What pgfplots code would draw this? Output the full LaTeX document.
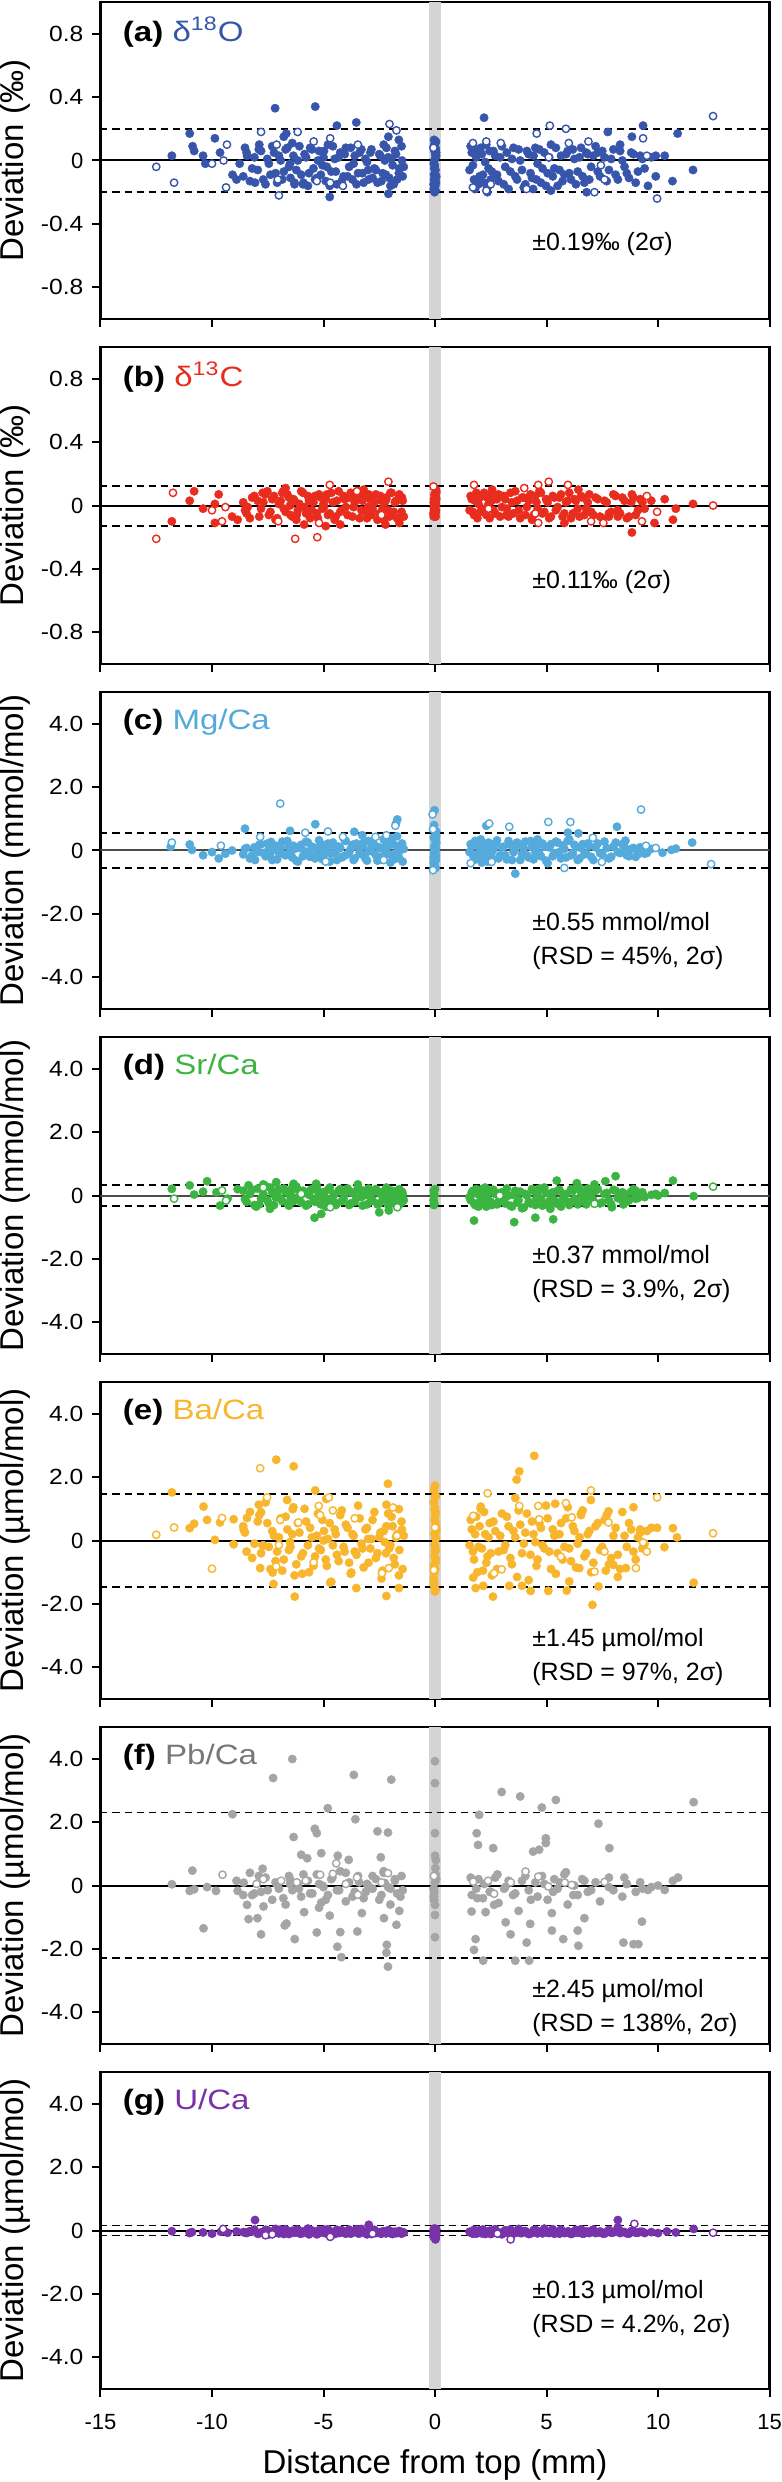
\documentclass[border=0pt]{standalone}
\usepackage{pgfplots}
\pgfplotsset{compat=1.18}
\usepackage{pgfplotstable}
\usepackage{fontspec}
\setmainfont{Liberation Sans}
\definecolor{ca}{RGB}{55,85,170}
\definecolor{cb}{RGB}{232,45,30}
\definecolor{cc}{RGB}{85,170,220}
\definecolor{cd}{RGB}{60,180,65}
\definecolor{ce}{RGB}{247,182,45}
\definecolor{cf}{RGB}{165,165,165}
\definecolor{cfl}{RGB}{120,120,120}
\definecolor{cg}{RGB}{120,50,170}
\definecolor{band}{RGB}{212,212,212}

\pgfplotstableread{
x a b c d e f g
-8.6 -0.10 0.02 -0.12 0.15 0.45 -0.30 -0.05
-8.45 0.05 -0.05 0.08 -0.20 -0.35 nan -0.08
-8.3 -0.13 -0.08 -0.25 0.05 0.90 0.40 -0.02
-8.1 0.02 0.06 0.10 -0.30 -0.10 -0.25 0.03
-7.95 -0.06 0.03 -0.05 0.22 0.60 nan -0.10
-7.8 0.06 -0.02 0.20 -0.10 -0.40 -0.20 -0.06
-7.6 -0.15 0.07 -0.18 0.30 1.20 0.25 0.02
-7.45 -0.02 -0.06 0.05 -0.25 -0.20 nan -0.12
-7.3 0.09 0.04 -0.30 0.10 0.30 -0.45 -0.04
-7.15 -0.08 -0.09 0.15 -0.05 -0.65 0.10 0.05
-7.0 0.03 0.01 -0.08 0.20 0.10 -0.10 -0.09
-6.85 -0.12 0.08 0.28 -0.18 -0.95 nan -0.03
-6.7 0.07 -0.04 -0.15 0.12 0.75 -0.60 0.04
-6.55 -0.04 0.05 0.12 -0.32 -0.30 0.30 -0.11
-6.4 0.11 -0.07 -0.22 0.25 0.20 -0.15 -0.01
-6.3 -0.14 0.03 0.05 -0.08 -1.10 nan -0.07
-6.15 0.00 -0.03 -0.35 0.18 0.55 0.05 0.03
-6.0 -0.09 0.09 0.18 -0.22 -0.50 -0.35 -0.10
-5.85 0.04 -0.01 -0.02 0.08 1.00 nan -0.04
-5.7 -0.16 0.06 0.25 -0.28 -0.15 0.15 0.06
-5.6 0.08 -0.08 -0.20 0.15 0.40 -0.25 -0.08
-5.45 -0.05 0.02 0.09 -0.12 -0.80 nan -0.02
-5.3 -0.11 -0.05 -0.12 0.28 0.15 0.35 -0.12
-5.2 0.06 0.07 0.32 -0.02 -0.25 -0.70 0.01
-5.05 -0.03 -0.02 -0.28 0.10 0.65 0.00 -0.06
-4.9 -0.13 0.04 0.02 -0.35 -0.60 nan -0.09
-4.8 0.10 -0.06 0.22 0.18 0.05 -0.30 0.04
-4.65 -0.07 0.08 -0.10 -0.15 -1.30 0.20 -0.05
-4.5 0.01 -0.09 0.15 0.05 0.35 nan -0.11
-4.4 -0.15 0.03 -0.30 -0.25 -0.45 -0.15 0.02
-4.25 0.05 -0.04 0.08 0.20 0.80 0.45 -0.07
-4.1 -0.10 0.06 -0.18 -0.10 -0.20 nan -0.03
-4.0 0.08 -0.01 0.30 0.12 0.50 -0.50 -0.10
-3.85 -0.04 0.05 -0.05 -0.30 -0.70 0.10 0.03
-3.7 -0.12 -0.07 0.18 0.08 0.20 nan -0.06
-3.6 0.03 0.02 -0.25 -0.20 -0.35 -0.20 -0.01
-3.45 -0.08 0.09 0.12 0.25 1.10 0.30 -0.09
-3.3 0.07 -0.03 -0.12 -0.05 -0.10 nan 0.05
-3.2 -0.14 0.06 0.25 0.15 -0.85 -0.40 -0.04
-3.05 -0.01 -0.08 -0.32 -0.28 0.40 0.05 -0.12
-2.9 0.05 0.04 0.05 0.05 -0.25 nan -0.02
-2.8 -0.11 -0.02 0.20 -0.15 0.65 -0.10 0.02
-2.65 -0.06 0.07 -0.15 0.20 -0.55 0.20 -0.08
-2.5 0.04 -0.05 0.10 -0.25 0.10 nan -0.05
-2.4 -0.13 0.03 -0.28 0.10 -1.20 -0.30 -0.10
-2.3 0.10 -0.09 0.35 -0.12 0.30 0.40 -0.03
-2.2 -0.09 0.05 -0.05 0.18 -0.40 nan -0.09
-2.1 0.02 -0.03 0.15 -0.30 0.85 -0.05 0.01
-2.0 -0.16 0.08 -0.38 0.08 -0.15 -0.60 -0.06
-1.9 -0.03 -0.06 0.22 -0.20 0.45 nan -0.11
-1.8 0.06 0.02 -0.10 0.12 -0.75 0.15 -0.04
-1.7 -0.12 -0.08 0.45 -0.05 0.20 -0.25 -0.08
-1.6 -0.05 0.06 -0.25 0.20 -0.30 nan -0.02
-1.5 0.09 -0.04 0.10 -0.22 0.60 0.30 -0.10
-1.45 -0.10 0.03 -0.35 0.05 -0.90 -0.15 -0.05
-1.4 -0.04 -0.07 0.05 -0.15 0.15 nan -0.07
-6.5 -0.02 0.00 -0.08 -0.02 -0.05 0.05 -0.06
-5.0 0.02 0.01 0.02 -0.08 0.00 -0.05 -0.03
-3.0 -0.06 -0.01 -0.03 0.00 0.05 0.00 -0.07
-2.25 0.00 0.02 0.06 -0.05 -0.05 0.08 -0.04
-0.05 -0.18 -0.06 -0.30 0.15 -1.40 -0.35 -0.10
0.04 0.12 0.05 0.25 nan 1.40 0.80 0.05
-0.03 -0.05 -0.02 -0.10 -0.25 -0.50 -0.20 -0.05
0.05 0.05 0.08 0.45 nan 0.30 0.20 -0.15
-0.04 -0.12 -0.04 -0.45 0.05 -1.00 -0.45 0.02
0.02 0.08 0.02 0.10 nan 0.80 0.55 -0.08
-0.06 -0.15 -0.05 -0.20 -0.15 -1.20 -0.10 -0.20
0.03 0.02 0.00 0.35 nan 0.10 0.35 -0.02
0.00 -0.08 0.06 0.00 0.20 -0.20 0.10 0.00
-0.02 0.10 -0.03 -0.05 nan 1.00 nan -0.12
0.05 -0.10 0.04 0.60 nan 0.45 nan 0.03
-0.05 -0.02 -0.07 -0.40 -0.30 -0.80 nan -0.06
0.01 0.04 0.01 0.20 nan 0.60 nan -0.25
0.04 -0.14 0.10 -0.15 nan -0.30 nan 0.04
-0.03 0.00 -0.01 0.05 0.00 0.20 nan -0.04
0.02 -0.06 0.03 -0.25 nan -0.70 nan -0.09
1.55 -0.06 -0.03 -0.05 -0.05 -0.15 nan -0.04
1.65 0.05 0.04 0.12 0.10 0.35 -0.30 -0.08
1.75 -0.12 -0.06 -0.30 -0.25 -0.60 nan 0.02
1.85 0.02 0.08 0.25 0.20 0.75 -0.10 -0.10
1.95 -0.15 0.01 -0.10 -0.35 -0.20 0.20 -0.03
2.05 0.08 -0.04 0.35 0.05 1.00 nan -0.06
2.15 -0.09 0.06 -0.20 -0.15 -0.95 -0.40 0.03
2.25 -0.01 -0.02 0.08 0.25 0.20 nan -0.11
2.35 -0.17 0.05 -0.35 -0.10 -0.50 0.10 -0.05
2.45 0.06 -0.08 0.15 0.15 0.55 -0.20 -0.01
2.55 -0.07 0.03 -0.05 -0.30 -1.10 nan -0.09
2.7 0.03 -0.05 0.22 0.05 0.30 0.25 0.04
2.85 -0.13 0.07 -0.25 -0.20 -0.35 -0.55 -0.07
3.0 0.09 -0.01 0.10 0.10 0.85 nan -0.12
3.15 -0.04 0.04 -0.15 -0.25 -0.15 -0.05 0.01
3.3 -0.18 -0.07 0.30 0.00 0.45 0.15 -0.05
3.45 0.01 0.02 -0.30 -0.35 -0.75 nan -0.10
3.6 -0.10 0.09 0.05 0.15 0.10 -0.25 -0.03
3.75 0.07 -0.03 0.20 -0.15 0.95 -0.80 0.05
3.9 -0.06 0.05 -0.12 -0.40 -0.40 nan -0.08
4.05 -0.15 -0.06 0.28 0.05 0.25 0.30 -0.02
4.2 0.04 0.03 -0.22 -0.20 -1.25 -0.15 -0.11
4.35 -0.11 -0.09 0.10 0.20 0.60 nan -0.06
4.5 0.08 0.06 -0.05 -0.30 -0.05 0.10 0.02
4.6 -0.02 -0.02 0.35 0.10 -0.60 -0.35 -0.09
4.75 -0.14 0.08 -0.18 -0.10 0.40 nan -0.04
4.9 0.05 -0.04 0.12 0.25 -0.25 0.05 0.06
5.05 -0.08 0.02 -0.40 -0.25 0.70 -0.45 -0.07
5.2 0.10 -0.07 0.20 0.05 -0.90 nan -0.01
5.35 -0.05 0.05 -0.08 -0.15 0.15 0.20 -0.10
5.5 -0.16 -0.01 0.25 0.15 -0.40 -0.10 -0.05
5.65 0.03 0.07 -0.25 -0.35 0.55 nan 0.03
5.8 -0.09 -0.05 0.05 0.00 -0.20 0.35 -0.08
5.95 0.06 0.03 0.30 -0.20 1.05 -0.60 -0.03
6.1 -0.12 -0.08 -0.15 0.20 -0.65 nan -0.11
6.25 0.01 0.04 0.18 -0.10 0.30 0.00 -0.02
6.4 -0.07 -0.02 -0.30 -0.28 -0.10 -0.30 -0.07
6.55 0.08 0.06 0.08 0.10 0.80 nan 0.04
6.7 -0.14 -0.06 -0.12 -0.18 -0.50 0.15 -0.09
6.85 0.04 0.02 0.22 0.22 0.20 -0.20 -0.05
7.0 -0.04 -0.04 -0.20 -0.05 -1.00 nan -0.01
7.2 0.09 0.05 0.10 0.15 0.45 0.10 -0.08
7.4 -0.10 -0.07 -0.08 -0.25 -0.30 -0.50 -0.03
7.6 0.02 0.03 0.28 0.05 0.65 nan -0.10
7.8 -0.06 -0.05 -0.25 -0.15 -0.75 0.25 0.02
8.0 0.07 0.07 0.12 0.18 0.15 -0.15 -0.06
8.2 -0.12 -0.03 -0.05 -0.08 -0.45 nan 0.10
8.4 0.00 0.05 0.20 0.10 0.90 -0.35 -0.04
8.6 -0.08 -0.08 -0.15 -0.20 -0.20 0.05 -0.09
8.8 0.05 0.02 0.05 0.12 0.35 nan -0.02
9.0 -0.14 -0.06 -0.20 -0.10 -0.60 -0.20 -0.07
9.2 0.03 0.04 0.10 0.08 0.25 0.10 -0.04
9.4 -0.05 -0.02 -0.10 -0.05 -0.10 nan -0.08
9.7 0.02 0.03 0.05 0.02 0.40 -0.05 -0.05
}\core

\pgfplotstableread{
x a b c d e g
-8.52 0.08 -0.03 0.05 -0.12 0.25 -0.06
-8.2 -0.05 0.05 -0.15 0.18 -0.55 -0.03
-7.88 0.10 -0.07 0.18 -0.28 0.80 -0.09
-7.7 -0.12 0.02 -0.08 0.05 -0.15 -0.05
-7.52 0.01 0.09 0.22 -0.15 0.55 0.01
-7.38 -0.09 -0.04 -0.20 0.25 -0.90 -0.10
-7.22 0.05 0.06 0.02 -0.30 0.15 -0.04
-7.08 -0.14 -0.08 -0.28 0.08 -0.35 -0.07
-6.92 0.00 0.03 0.10 -0.10 0.70 0.03
-6.78 -0.07 -0.02 -0.12 0.22 -0.60 -0.11
-6.62 0.08 0.07 0.30 -0.25 0.35 -0.02
-6.48 -0.11 -0.06 -0.05 0.10 -0.20 -0.08
-6.35 0.03 0.04 0.15 -0.18 1.05 -0.05
-6.22 -0.06 -0.09 -0.32 0.28 -0.75 0.02
-6.08 0.09 0.01 0.08 -0.05 0.25 -0.09
-5.92 -0.15 0.08 -0.18 0.15 -0.40 -0.03
-5.78 0.02 -0.05 0.28 -0.32 0.60 -0.07
-5.65 -0.08 0.03 -0.10 0.02 -1.00 -0.12
-5.52 0.07 -0.03 0.12 0.20 0.10 0.00
-5.38 -0.12 0.06 -0.25 -0.20 -0.50 -0.06
-5.25 0.00 -0.08 0.05 0.12 0.85 -0.10
-5.12 -0.09 0.05 0.20 -0.28 -0.30 -0.04
-4.98 0.06 -0.01 -0.15 0.08 0.30 0.03
-4.85 -0.04 0.07 0.10 -0.12 -0.80 -0.08
-4.72 -0.16 -0.05 -0.35 0.25 0.55 -0.02
-4.58 0.09 0.02 0.25 -0.05 -0.15 -0.11
-4.45 -0.07 -0.07 -0.05 -0.30 0.20 -0.05
-4.32 0.02 0.09 0.12 0.15 -0.65 -0.08
-4.18 -0.13 -0.03 -0.22 -0.18 0.95 0.01
-4.05 0.04 0.04 0.32 0.05 -0.35 -0.07
-3.92 -0.10 -0.06 -0.12 0.22 0.40 -0.03
-3.78 0.08 0.08 0.05 -0.25 -1.05 -0.10
-3.65 -0.02 -0.01 -0.30 0.10 0.15 -0.05
-3.52 -0.15 0.05 0.22 -0.08 -0.45 0.04
-3.38 0.05 -0.08 -0.08 0.18 0.70 -0.09
-3.25 -0.08 0.03 0.15 -0.32 -0.25 -0.02
-3.12 0.01 -0.04 -0.25 0.02 0.35 -0.08
-2.98 -0.12 0.07 0.30 0.22 -0.70 -0.04
-2.85 0.07 -0.06 -0.02 -0.18 0.05 -0.11
-2.72 -0.05 0.02 0.18 0.12 0.90 0.02
-2.58 -0.14 -0.09 -0.32 -0.28 -0.40 -0.06
-2.45 0.03 0.06 0.08 0.05 0.25 -0.09
-2.35 -0.08 -0.02 -0.18 -0.15 -0.95 -0.03
-2.18 0.08 0.04 0.25 0.25 0.45 -0.07
-2.05 -0.11 -0.07 -0.12 -0.08 -0.25 0.00
-1.95 0.01 0.08 0.38 0.15 0.75 -0.10
-1.85 -0.15 -0.04 -0.28 -0.25 -0.55 -0.05
-1.75 0.04 0.03 0.15 0.02 0.10 -0.08
-1.62 -0.08 -0.08 -0.05 -0.30 -1.10 -0.02
-1.48 0.00 0.05 0.22 0.12 0.35 -0.06
-0.04 0.13 0.04 0.80 nan 1.60 0.06
0.03 -0.19 -0.07 -0.55 nan -1.55 -0.22
-0.02 0.06 0.07 0.15 nan 0.65 -0.03
0.04 -0.11 -0.03 -0.30 nan -0.60 -0.13
-0.05 0.09 0.02 0.40 nan 1.20 0.01
0.01 -0.16 -0.05 -0.05 nan -0.90 -0.18
0.05 0.03 0.09 0.25 nan 0.35 -0.07
-0.01 -0.03 -0.02 -0.20 nan -0.35 -0.01
0.02 0.11 0.06 0.50 nan 0.90 0.04
-0.04 -0.09 0.00 -0.35 nan -1.30 -0.11
0.03 0.07 -0.04 0.05 nan 0.05 -0.14
-0.02 -0.20 0.03 -0.50 nan -0.15 -0.03
1.6 0.09 0.06 0.20 -0.15 0.65 -0.06
1.7 -0.03 -0.04 -0.15 0.15 -0.35 -0.10
1.8 -0.18 0.03 0.30 -0.30 0.20 -0.02
1.9 0.07 -0.08 -0.25 0.05 -1.00 -0.07
2.0 -0.10 0.05 0.08 -0.20 0.45 0.01
2.1 0.04 -0.02 -0.38 0.20 -0.25 -0.09
2.2 -0.14 0.08 0.18 -0.05 0.90 -0.04
2.3 0.10 -0.06 -0.08 -0.35 -0.70 -0.08
2.4 -0.05 0.01 0.25 0.10 0.10 -0.03
2.5 -0.12 0.07 -0.20 -0.20 -0.40 -0.11
2.62 0.06 -0.03 0.05 0.18 0.60 0.02
2.78 -0.09 0.04 0.32 -0.28 -0.90 -0.06
2.92 0.02 -0.07 -0.15 0.08 0.15 -0.09
3.08 -0.15 0.06 0.12 -0.15 -0.30 -0.03
3.22 0.05 -0.02 -0.28 0.22 0.75 -0.07
3.38 -0.07 0.08 0.18 -0.32 -0.55 0.03
3.52 0.08 -0.05 -0.05 0.02 0.30 -0.10
3.68 -0.12 0.03 0.25 -0.22 -1.15 -0.05
3.82 0.00 -0.08 -0.30 0.12 0.50 -0.08
3.98 -0.17 0.05 0.08 -0.38 -0.10 -0.02
4.12 0.06 -0.01 -0.15 0.00 0.85 -0.06
4.28 -0.08 0.07 0.30 -0.25 -0.45 -0.10
4.42 0.03 -0.06 -0.28 0.15 0.20 0.01
4.55 -0.12 0.02 0.15 -0.10 -0.80 -0.07
4.68 0.07 0.09 -0.10 0.22 0.55 -0.04
4.82 -0.05 -0.05 0.22 -0.32 -0.15 -0.09
4.98 -0.16 0.04 -0.32 0.08 1.10 -0.03
5.12 0.02 -0.08 0.10 -0.18 -0.35 -0.08
5.28 -0.10 0.06 -0.18 0.10 0.35 0.04
5.42 0.08 -0.03 0.28 -0.25 -1.05 -0.06
5.58 -0.06 0.05 -0.05 0.18 0.20 -0.10
5.72 -0.13 -0.07 0.15 -0.12 -0.60 -0.02
5.88 0.04 0.02 -0.22 0.05 0.70 -0.07
6.02 -0.08 0.08 0.35 -0.30 -0.25 -0.04
6.18 0.07 -0.05 -0.08 0.15 0.45 -0.09
6.32 -0.15 0.03 0.12 -0.20 -0.85 0.02
6.48 0.02 -0.07 -0.25 0.25 0.10 -0.06
6.62 -0.10 0.05 0.20 -0.05 0.95 -0.10
6.78 0.05 -0.02 -0.10 -0.28 -0.40 -0.03
6.92 -0.12 0.07 0.15 0.10 0.30 -0.08
7.1 0.03 -0.06 -0.30 -0.15 -0.70 0.03
7.3 -0.07 0.04 0.22 0.20 0.55 -0.06
7.5 0.06 -0.08 -0.12 -0.22 -0.20 -0.09
7.7 -0.13 0.02 0.08 0.08 0.80 -0.04
7.9 0.01 -0.04 -0.20 -0.28 -0.55 -0.07
8.1 -0.09 0.06 0.25 0.15 0.40 -0.02
8.3 0.06 -0.05 -0.08 -0.10 -0.90 -0.08
8.5 -0.04 0.03 0.10 0.05 0.15 -0.05
8.7 -0.11 -0.07 -0.18 -0.15 0.55 -0.10
8.9 0.04 0.05 0.08 0.20 -0.35 -0.03
9.1 -0.07 -0.03 -0.12 -0.08 0.10 -0.07
9.3 0.01 0.02 0.05 0.10 -0.25 -0.04
}\coreb

\pgfplotstableread{
x y
-11.8 0.03
-11.0 0.17
-10.87 0.09
-10.8 0.06
-10.4 0.03
-10.3 -0.02
-9.87 0.14
-9.64 0.05
-9.08 -0.09
-8.9 -0.12
-8.76 -0.02
-8.43 0.03
-8.07 -0.14
-7.9 0.07
-7.17 0.33
-5.37 0.34
-3.53 0.24
-4.4 0.22
-6.67 0.17
-6.78 0.15
-4.72 -0.23
-2.09 -0.21
-2.09 0.15
-1.62 0.13
-6.3 -0.15
-5.9 -0.14
2.2 0.27
7.75 0.18
9.33 0.22
10.88 0.17
11.57 -0.06
10.65 -0.13
9.9 -0.10
9.55 -0.16
10.3 0.03
9.9 0.03
8.83 0.15
8.3 0.10
7.3 0.05
6.8 -0.20
5.2 -0.19
4.4 -0.18
2.35 -0.20
}\aF
\pgfplotstableread{
x y
-12.5 -0.04
-11.7 -0.14
-9.37 -0.17
-9.33 0.10
-9.48 0.00
-10.0 -0.02
-7.8 0.18
-7.0 -0.22
-7.1 0.10
-6.16 0.18
-4.7 0.14
-5.44 0.12
-2.04 0.23
-1.73 0.19
-3.46 0.10
-4.7 -0.14
-4.13 -0.16
-5.3 -0.13
-7.05 -0.12
12.47 0.28
5.15 0.22
5.87 0.20
4.56 0.17
6.88 0.12
9.33 0.14
9.5 0.03
9.96 -0.24
7.15 -0.20
7.6 -0.12
7.44 -0.03
4.1 -0.18
1.7 -0.17
2.3 -0.19
2.5 -0.15
1.7 0.11
2.3 0.12
2.95 0.11
6.0 0.11
5.1 0.02
-0.07 0.08
}\aO

\pgfplotstableread{
x y
-11.8 -0.10
-11.0 0.03
-10.8 0.09
-10.4 -0.02
-9.87 0.01
-9.7 0.07
-9.87 -0.11
-9.1 -0.07
-8.85 -0.09
-8.4 -0.01
-7.73 0.08
-6.8 0.09
-6.7 0.11
-6.2 -0.06
-5.87 -0.12
-4.9 -0.13
-4.25 -0.12
-3.2 0.10
-2.22 -0.12
-1.6 -0.11
-1.6 0.07
2.56 0.10
3.2 -0.06
5.8 -0.11
6.43 0.10
8.83 0.07
8.83 -0.17
9.84 -0.11
10.3 0.04
10.8 -0.02
10.67 -0.09
11.57 0.01
7.8 -0.07
8.2 -0.07
}\bF
\pgfplotstableread{
x y
-12.5 -0.21
-11.75 0.08
-10.0 -0.03
-9.4 -0.01
-9.55 -0.10
-7.03 -0.10
-6.27 -0.21
-5.28 -0.20
-5.2 -0.11
-4.72 0.13
-2.09 0.15
-2.4 -0.06
-3.5 0.09
-0.07 0.12
1.75 0.13
4.0 0.11
4.63 0.13
5.1 0.15
5.96 0.13
4.63 -0.11
7.0 -0.10
7.55 -0.11
9.28 -0.10
9.5 0.06
9.96 -0.04
12.47 0.00
2.4 -0.02
4.5 -0.05
}\bO

\pgfplotstableread{
x y
-11.85 0.12
-11.0 0.19
-10.9 0.02
-10.4 -0.15
-9.7 -0.25
-9.1 0.00
-8.52 0.69
-8.07 -0.30
-7.35 0.27
-6.5 0.62
-5.37 0.83
-3.62 0.59
-3.26 0.48
-1.69 0.98
-1.75 0.85
-0.02 1.27
2.3 0.78
3.6 -0.73
5.96 0.56
6.43 0.54
8.16 0.75
8.54 0.31
11.53 0.25
10.8 0.06
10.2 -0.07
10.6 0.02
9.5 -0.08
-10.0 -0.05
-9.4 -0.10
}\cF
\pgfplotstableread{
x y
-11.8 0.25
-9.6 0.15
-7.84 0.43
-6.94 1.48
-5.82 0.56
-4.8 0.60
-4.13 0.43
-2.67 0.43
-2.18 0.48
-1.78 0.78
-0.11 1.14
-0.09 0.67
-0.09 -0.62
2.43 0.85
3.33 0.75
5.08 0.90
6.07 0.90
7.08 0.40
9.24 1.29
9.46 0.15
9.9 0.08
12.38 -0.43
5.8 -0.55
7.48 -0.36
2.54 -0.36
1.6 -0.40
-4.9 -0.35
-2.3 -0.30
}\cO

\pgfplotstableread{
x y
-11.8 0.21
-11.0 0.32
-10.8 0.03
-10.4 0.12
-10.22 0.45
-9.8 0.10
-9.64 -0.32
-9.3 -0.10
-8.85 0.20
-8.36 0.32
-8.02 -0.35
-7.7 0.35
-7.4 -0.42
-7.12 0.42
-6.34 0.37
-5.4 -0.70
-5.1 -0.58
-5.33 0.37
-3.46 0.35
-2.5 -0.53
-2.07 -0.47
1.75 -0.79
3.55 -0.84
4.5 -0.70
5.3 -0.75
5.17 -0.42
5.46 0.47
6.36 0.39
7.15 0.35
7.64 0.45
8.1 0.61
7.93 -0.37
8.45 -0.28
10.67 0.47
11.6 -0.02
10.3 0.08
9.9 0.05
10.0 0.00
9.0 0.15
}\dF
\pgfplotstableread{
x y
-11.7 -0.10
-9.55 0.16
-9.37 -0.16
-7.7 0.25
-4.7 -0.37
-1.69 -0.37
12.47 0.28
7.15 -0.26
2.9 0.00
-6.0 0.05
}\dO

\pgfplotstableread{
x y
-11.8 1.52
-11.0 0.39
-10.8 0.53
-10.38 1.07
-10.22 0.65
-9.87 0.02
-9.64 0.57
-9.03 0.67
-9.03 -0.12
-8.58 0.34
-8.43 0.71
-7.9 1.13
-7.8 0.89
-7.84 -0.87
-7.73 -0.16
-7.28 -1.01
-7.24 -1.37
-7.12 2.55
-6.63 1.28
-6.38 0.99
-6.34 2.34
-6.29 -1.77
-5.96 -1.05
-5.37 1.58
-4.88 1.31
-4.7 -1.33
-3.75 -1.01
-3.53 -1.50
-2.18 1.13
-2.11 1.79
-2.18 -1.75
-1.62 -1.50
-1.62 0.99
0.0 1.73
0.0 1.39
0.0 1.02
0.0 -1.61
1.71 -1.17
1.82 -1.50
2.16 -1.43
2.05 1.07
2.6 -1.77
3.33 -1.43
3.66 1.92
3.78 2.18
3.6 1.34
3.9 -1.43
4.29 -1.59
4.45 2.67
5.08 -1.59
5.39 1.16
5.91 -1.58
6.02 -1.29
6.47 -0.87
6.54 0.84
6.99 1.28
7.33 -1.45
7.06 -2.03
7.66 -0.95
7.78 0.92
8.0 -0.77
8.56 -0.87
8.9 1.05
8.2 -1.15
9.2 0.35
9.5 0.30
9.96 0.40
10.29 -0.21
10.67 0.39
10.85 0.10
11.6 -1.33
}\eF
\pgfplotstableread{
x y
-12.5 0.18
-11.7 0.41
-10.0 -0.89
-9.55 0.71
-7.84 2.28
-7.53 1.36
-7.12 -0.82
-7.0 -0.14
-6.94 0.65
-6.13 0.57
-5.44 -0.69
-5.21 1.09
-4.76 1.36
-4.58 0.95
-5.15 0.80
-3.6 0.70
-2.38 -1.03
-2.07 -0.87
-1.89 1.04
-1.71 0.15
0.0 0.41
-0.05 -0.93
1.71 0.78
2.36 1.49
2.99 -0.91
2.65 -1.03
3.78 1.09
4.63 1.09
4.67 0.67
5.64 -0.51
5.87 1.18
6.13 0.73
6.99 1.58
7.15 -0.98
7.6 -0.35
7.78 0.57
9.01 -0.87
9.33 -0.06
9.5 -0.35
9.96 1.36
12.47 0.23
}\eO

\pgfplotstableread{
x y
-11.8 0.04
-10.88 0.47
-11.0 -0.17
-10.8 -0.12
-10.38 -1.35
-10.22 -0.05
-9.82 -0.17
-9.08 2.25
-8.85 -0.17
-8.58 0.09
-8.43 -0.61
-8.36 -1.06
-7.96 -1.03
-7.8 -1.54
-7.73 0.53
-7.69 -0.66
-7.26 3.39
-6.74 -1.26
-6.66 -1.20
-6.4 3.99
-6.29 -1.69
-6.34 1.53
-6.0 0.97
-5.73 0.86
-5.87 -0.84
-5.39 1.79
-5.3 1.65
-5.3 -1.48
-5.1 1.02
-5.1 -0.54
-4.81 2.44
-4.72 -0.95
-4.36 0.94
-4.38 -1.93
-4.25 -1.47
-4.2 -2.26
-3.87 0.81
-3.64 3.49
-3.57 2.09
-3.48 -1.45
-3.28 -0.87
-2.58 1.71
-2.11 1.67
-2.43 0.89
-2.29 -1.03
-2.18 -2.12
-2.11 -2.56
-2.16 -1.87
-1.96 3.34
-1.73 -1.24
-1.6 -0.80
0.0 3.92
0.0 3.23
0.0 1.65
0.0 0.94
0.0 -0.61
0.0 -0.93
0.0 -1.63
1.64 -0.82
1.75 -2.03
1.82 -1.69
1.87 1.65
1.98 2.23
1.93 1.28
2.16 -2.37
2.27 -0.84
2.61 1.18
2.65 -0.61
2.99 2.95
3.17 -1.16
3.39 -1.54
3.6 -2.37
3.82 2.81
4.11 -1.80
4.27 -1.21
4.22 -2.37
4.4 1.07
4.67 1.13
4.79 2.46
4.97 1.49
4.97 1.34
5.24 -0.87
5.24 -1.42
5.42 2.70
5.75 -1.69
5.87 0.42
6.4 -1.42
6.43 -1.90
6.7 -1.03
7.33 1.95
7.82 1.18
8.49 0.25
8.45 -1.80
8.9 -1.85
9.12 -1.85
9.28 -1.14
9.55 -0.14
10.0 0.00
10.3 -0.14
10.67 0.15
10.9 0.25
11.6 2.63
-8.9 0.15
-8.2 -0.30
-7.9 0.30
-7.5 -0.15
-7.1 0.05
-6.8 -0.40
-6.5 0.20
-6.1 -0.10
-5.9 0.35
-5.5 -0.25
-5.2 0.05
-4.9 -0.45
-4.6 0.25
-4.3 -0.15
-4.0 0.40
-3.7 -0.35
-3.4 0.10
-3.1 -0.20
-2.8 0.30
-2.5 -0.45
-2.3 0.45
-2.0 -0.10
-1.8 0.20
-1.55 -0.35
1.6 0.25
1.9 -0.40
2.2 0.05
2.5 -0.20
2.8 0.35
3.1 -0.10
3.5 -0.30
3.9 0.15
4.3 -0.45
4.8 0.30
5.3 -0.20
5.6 0.10
6.2 -0.30
6.6 0.20
7.0 -0.15
7.8 -0.05
8.6 0.05
9.3 -0.10
}\fF
\pgfplotstableread{
x y
-9.53 0.34
-7.7 0.20
-6.9 0.15
-6.2 0.10
-5.8 0.15
-5.15 0.34
-4.43 0.70
-4.58 0.37
-3.46 -0.29
-3.5 0.25
-2.11 0.39
-2.4 0.10
-0.05 0.30
1.71 0.12
2.38 0.15
2.65 -0.26
3.4 0.10
4.06 0.44
4.63 0.28
5.08 -0.03
5.82 0.09
6.13 0.02
7.6 0.11
-8.0 0.05
-4.0 0.05
}\fO

\pgfplotstableread{
x y
-11.8 -0.02
-11.0 -0.08
-10.9 -0.05
-10.4 -0.06
-10.0 -0.10
-9.6 -0.04
-9.3 -0.07
-8.9 -0.03
-8.07 0.33
-2.97 0.18
-0.02 -0.18
0.02 -0.28
8.2 0.33
11.6 0.05
10.8 -0.06
10.4 -0.03
10.0 -0.08
}\gF
\pgfplotstableread{
x y
12.47 -0.07
8.94 0.21
-4.7 -0.20
-7.6 -0.15
3.39 -0.28
-9.5 0.05
-7.3 -0.12
2.8 -0.10
-2.8 -0.10
}\gO

\pgfplotsset{
  panel/.style={scale only axis, width=334.5pt, height=158.5pt,
    anchor=north west,
    xmin=-15, xmax=15, xtick={-15,-10,-5,0,5,10,15},
    xticklabels={,,,,,,},
    tick align=outside, xtick pos=bottom, ytick pos=left,
    major tick length=4pt,
    every tick/.style={black, line width=1pt},
    axis line style={line width=1.25pt},
    ylabel style={at={(axis description cs:-0.128,0.5)}, anchor=center,
      font=\fontsize{16.5}{18}\selectfont},
    yticklabel style={font=\fontsize{11}{12}\selectfont, xshift=-1pt},
    xticklabel style={font=\fontsize{11}{12}\selectfont, yshift=-5pt},
  },
  iso/.style={ymin=-1, ymax=1, ytick={-0.8,-0.4,0,0.4,0.8},
    yticklabels={\scalebox{1.12}[1]{-0.8},\scalebox{1.12}[1]{-0.4},0,\scalebox{1.12}[1]{0.4},\scalebox{1.12}[1]{0.8}}},
  el/.style={ymin=-5, ymax=5, ytick={-4,-2,0,2,4},
    yticklabels={\scalebox{1.12}[1]{-4.0},\scalebox{1.12}[1]{-2.0},0,\scalebox{1.12}[1]{2.0},\scalebox{1.12}[1]{4.0}}},
  fm/.style={only marks, mark=*, mark size=2.1pt,
    mark options={draw=#1, fill=#1, line width=0.2pt}},
  om/.style={only marks, mark=*, mark size=1.85pt,
    mark options={draw=#1, fill=white, line width=0.7pt}},
  zl/.style={black, line width=1pt},
  dl/.style={black, line width=0.85pt, dash pattern=on 3.5pt off 2.5pt},
}
\tikzset{
  plab/.style={anchor=west, inner sep=0pt, font=\fontsize{14}{16}\selectfont},
  ann/.style={anchor=west, inner sep=0pt, align=left, font=\fontsize{12.5}{17}\selectfont},
}
\newcommand{\pl}[1]{\scalebox{1.18}[1]{#1}}

\begin{document}
\begin{tikzpicture}
% (a)
\begin{axis}[panel, iso, at={(0pt,0pt)}, ylabel={Deviation\hspace{0.3em}(‰)}]
\addplot[fill=band, draw=none] coordinates {(-0.28,-1) (0.28,-1) (0.28,1) (-0.28,1)};
\addplot[zl] coordinates {(-15,0) (15,0)};
\addplot[dl] coordinates {(-15,0.2) (15,0.2)};
\addplot[dl] coordinates {(-15,-0.2) (15,-0.2)};
\addplot[fm=ca] table[x=x,y=a] {\core};
\addplot[fm=ca] table[x=x,y=a] {\coreb};
\addplot[fm=ca] table {\aF};
\addplot[om=ca] table {\aO};
\node[plab] at (rel axis cs:0.033,0.905) {\pl{\textbf{(a)} \textcolor{ca}{δ\textsuperscript{18}O}}};
\node[ann] at (rel axis cs:0.645,0.236) {±0.19‰ (2σ)};
\end{axis}
% (b)
\begin{axis}[panel, iso, at={(0pt,-172.5pt)}, ylabel={Deviation\hspace{0.3em}(‰)}]
\addplot[fill=band, draw=none] coordinates {(-0.28,-1) (0.28,-1) (0.28,1) (-0.28,1)};
\addplot[zl] coordinates {(-15,0) (15,0)};
\addplot[dl] coordinates {(-15,0.125) (15,0.125)};
\addplot[dl] coordinates {(-15,-0.13) (15,-0.13)};
\addplot[fm=cb] table[x=x,y=b] {\core};
\addplot[fm=cb] table[x=x,y=b] {\coreb};
\addplot[fm=cb] table {\bF};
\addplot[om=cb] table {\bO};
\node[plab] at (rel axis cs:0.033,0.905) {\pl{\textbf{(b)} \textcolor{cb}{δ\textsuperscript{13}C}}};
\node[ann] at (rel axis cs:0.645,0.26) {±0.11‰ (2σ)};
\end{axis}
% (c)
\begin{axis}[panel, el, at={(0pt,-345pt)}, ylabel={Deviation\hspace{0.3em}(mmol/mol)}]
\addplot[fill=band, draw=none] coordinates {(-0.28,-5) (0.28,-5) (0.28,5) (-0.28,5)};
\addplot[zl, black!70] coordinates {(-15,0) (15,0)};
\addplot[dl] coordinates {(-15,0.55) (15,0.55)};
\addplot[dl] coordinates {(-15,-0.55) (15,-0.55)};
\addplot[fm=cc] table[x=x,y=c] {\core};
\addplot[fm=cc] table[x=x,y=c] {\coreb};
\addplot[fm=cc] table {\cF};
\addplot[om=cc] table {\cO};
\node[plab] at (rel axis cs:0.033,0.905) {\pl{\textbf{(c)} \textcolor{cc}{Mg/Ca}}};
\node[ann] at (rel axis cs:0.645,0.215) {±0.55 mmol/mol\\(RSD = 45\%, 2σ)};
\end{axis}
% (d)
\begin{axis}[panel, el, at={(0pt,-517.5pt)}, ylabel={Deviation\hspace{0.3em}(mmol/mol)}]
\addplot[fill=band, draw=none] coordinates {(-0.28,-5) (0.28,-5) (0.28,5) (-0.28,5)};
\addplot[zl, black!70] coordinates {(-15,0) (15,0)};
\addplot[dl] coordinates {(-15,0.33) (15,0.33)};
\addplot[dl] coordinates {(-15,-0.33) (15,-0.33)};
\addplot[fm=cd] table[x=x,y=d] {\core};
\addplot[fm=cd] table[x=x,y=d] {\coreb};
\addplot[fm=cd] table {\dF};
\addplot[om=cd] table {\dO};
\node[plab] at (rel axis cs:0.033,0.905) {\pl{\textbf{(d)} \textcolor{cd}{Sr/Ca}}};
\node[ann] at (rel axis cs:0.645,0.252) {±0.37 mmol/mol\\(RSD = 3.9\%, 2σ)};
\end{axis}
% (e)
\begin{axis}[panel, el, at={(0pt,-690pt)}, ylabel={Deviation\hspace{0.3em}(µmol/mol)}]
\addplot[fill=band, draw=none] coordinates {(-0.28,-5) (0.28,-5) (0.28,5) (-0.28,5)};
\addplot[zl] coordinates {(-15,0) (15,0)};
\addplot[dl] coordinates {(-15,1.46) (15,1.46)};
\addplot[dl] coordinates {(-15,-1.46) (15,-1.46)};
\addplot[fm=ce] table[x=x,y=e] {\core};
\addplot[fm=ce] table[x=x,y=e] {\coreb};
\addplot[fm=ce] table {\eF};
\addplot[om=ce] table {\eO};
\node[plab] at (rel axis cs:0.033,0.905) {\pl{\textbf{(e)} \textcolor{ce}{Ba/Ca}}};
\node[ann] at (rel axis cs:0.645,0.133) {±1.45 µmol/mol\\(RSD = 97\%, 2σ)};
\end{axis}
% (f)
\begin{axis}[panel, el, at={(0pt,-862.5pt)}, ylabel={Deviation\hspace{0.3em}(µmol/mol)}]
\addplot[fill=band, draw=none] coordinates {(-0.28,-5) (0.28,-5) (0.28,5) (-0.28,5)};
\addplot[zl] coordinates {(-15,0) (15,0)};
\addplot[dl] coordinates {(-15,2.3) (15,2.3)};
\addplot[dl] coordinates {(-15,-2.28) (15,-2.28)};
\addplot[fm=cf] table[x=x,y=f] {\core};
\addplot[fm=cf] table {\fF};
\addplot[om=cf] table {\fO};
\node[plab] at (rel axis cs:0.033,0.905) {\pl{\textbf{(f)} \textcolor{cfl}{Pb/Ca}}};
\node[ann] at (rel axis cs:0.645,0.113) {±2.45 µmol/mol\\(RSD = 138\%, 2σ)};
\end{axis}
% (g)
\begin{axis}[panel, el, at={(0pt,-1035pt)}, ylabel={Deviation\hspace{0.3em}(µmol/mol)},
  xticklabels={-15,-10,-5,0,5,10,15},
  xlabel={Distance from top (mm)},
  xlabel style={at={(axis description cs:0.5,-0.24)}, anchor=center,
    font=\fontsize{16.5}{18}\selectfont}]
\addplot[fill=band, draw=none] coordinates {(-0.28,-5) (0.28,-5) (0.28,5) (-0.28,5)};
\addplot[zl] coordinates {(-15,0) (15,0)};
\addplot[dl] coordinates {(-15,0.16) (15,0.16)};
\addplot[dl] coordinates {(-15,-0.16) (15,-0.16)};
\addplot[fm=cg] table[x=x,y=g] {\core};
\addplot[fm=cg] table[x=x,y=g] {\coreb};
\addplot[fm=cg] table {\gF};
\addplot[om=cg] table {\gO};
\node[plab] at (rel axis cs:0.033,0.905) {\pl{\textbf{(g)} \textcolor{cg}{U/Ca}}};
\node[ann] at (rel axis cs:0.645,0.252) {±0.13 µmol/mol\\(RSD = 4.2\%, 2σ)};
\end{axis}
\pgfresetboundingbox
\path (-50.25pt,1pt) rectangle (340.25pt,-1240pt);
\end{tikzpicture}
\end{document}
